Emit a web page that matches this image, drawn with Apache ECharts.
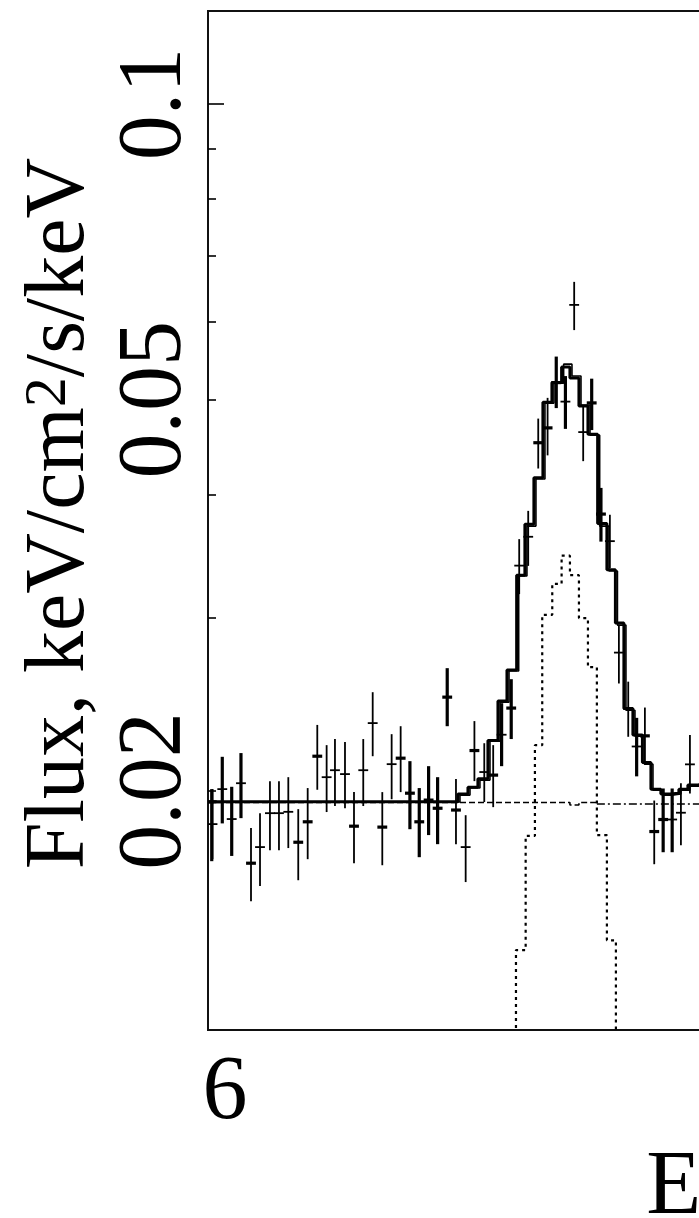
<!DOCTYPE html>
<html><head><meta charset="utf-8">
<script src="https://cdn.jsdelivr.net/npm/echarts@6/dist/echarts.min.js"></script>
<style>html,body{margin:0;padding:0;background:#fff;overflow:hidden}#main{width:699px;height:1218px}</style>
</head><body><div id="main"></div>
<script>
// ---------- data (energy keV, flux keV/cm^2/s/keV) ----------
const xTickValues = [6];
const xTickLabels = ['6'];
const yLabelValues = [0.02, 0.05, 0.1];
const yTickLabels = ['0.02', '0.05', '0.1'];
const yMinorTickValues = [0.02, 0.03, 0.04, 0.05, 0.06, 0.07, 0.08, 0.09];
const yMajorTickValues = [0.1];
const xAxisName = 'Energy, keV';
const xRange = [5.98, 7.538];
const yRange = [0.011428, 0.1243];
const binHalfWidth = 0.0058;

// [energy, flux, fluxLow, fluxHigh]
const pointsThick = [
  [5.9844, 0.01950, 0.01697, 0.02009], [6.2176, 0.01990, 0.01829, 0.02145],
  [6.2286, 0.01861, 0.01713, 0.02014], [6.2396, 0.01958, 0.01804, 0.02120],
  [6.2502, 0.01921, 0.01766, 0.02066], [6.2615, 0.02492, 0.02328, 0.02667],
  [6.3368, 0.02429, 0.02259, 0.02599], [6.3898, 0.05206, 0.04904, 0.05533],
  [6.4315, 0.04964, 0.04658, 0.05254], [6.4424, 0.03826, 0.03587, 0.04068],
  [6.5156, 0.01871, 0.01733, 0.02012]
];
const pointsThickBar = [
  [5.9968, 0.02009, 0.01854, 0.02167], [6.0079, 0.01873, 0.01718, 0.02020],
  [6.0188, 0.02037, 0.01877, 0.02186], [6.3255, 0.02282, 0.02120, 0.02457],
  [6.4006, 0.04979, 0.04671, 0.05286], [6.4844, 0.02220, 0.02070, 0.02374],
  [6.5262, 0.01871, 0.01733, 0.02012]
];
const pointsThickCap = [
  [6.0306, 0.01689, 0.01545, 0.01834], [6.0862, 0.01774, 0.01623, 0.01917],
  [6.0973, 0.01861, 0.01705, 0.02014], [6.1086, 0.02170, 0.02006, 0.02335],
  [6.1518, 0.01842, 0.01689, 0.01995], [6.1851, 0.01838, 0.01681, 0.01995],
  [6.2067, 0.02160, 0.01995, 0.02328], [6.2718, 0.01913, 0.01766, 0.02057],
  [6.2935, 0.02199, 0.02047, 0.02356], [6.3156, 0.02076, 0.01926, 0.02227],
  [6.3686, 0.04522, 0.04257, 0.04785], [6.3796, 0.04682, 0.04390, 0.05023],
  [6.4941, 0.02276, 0.02129, 0.02432], [6.5051, 0.01819, 0.01685, 0.01956]
];
const pointsThin = [
  [5.9853, 0.01851, 0.01705, 0.02009], [6.0412, 0.01754, 0.01601, 0.01899],
  [6.0529, 0.01899, 0.01741, 0.02047], [6.0635, 0.01899, 0.01741, 0.02047],
  [6.0745, 0.01905, 0.01750, 0.02066], [6.1196, 0.02066, 0.01904, 0.02227],
  [6.1294, 0.02100, 0.01931, 0.02259], [6.1412, 0.02081, 0.01921, 0.02243],
  [6.1627, 0.02100, 0.01931, 0.02259], [6.1738, 0.02345, 0.02170, 0.02521],
  [6.1961, 0.02130, 0.01962, 0.02285], [6.2832, 0.01754, 0.01616, 0.01890],
  [6.3051, 0.02091, 0.01949, 0.02237], [6.3462, 0.03391, 0.03172, 0.03608],
  [6.3568, 0.03628, 0.03389, 0.03855], [6.4109, 0.06245, 0.05887, 0.06591],
  [6.4215, 0.04636, 0.04331, 0.04927], [6.4529, 0.03591, 0.03371, 0.03820],
  [6.4635, 0.02766, 0.02573, 0.02951], [6.4745, 0.02423, 0.02271, 0.02584],
  [6.5365, 0.01901, 0.01762, 0.02037], [6.5471, 0.02129, 0.01988, 0.02280]
];

// model bins: edges (keV) and values
const modelAEdges = [5.98, 6.2741, 6.2859, 6.2976, 6.3094, 6.3212, 6.3318, 6.3432, 6.3529, 6.3635, 6.3741, 6.3847, 6.3961, 6.4059, 6.4165, 6.4271, 6.4385, 6.4494, 6.4594, 6.4694, 6.48, 6.4912, 6.5012, 6.5129, 6.5235, 6.5341, 6.5447, 6.5553, 6.5765];
const modelAValues = [0.01951, 0.01986, 0.02018, 0.02059, 0.02251, 0.02469, 0.02655, 0.03316, 0.03737, 0.04167, 0.04973, 0.05208, 0.05398, 0.05261, 0.04927, 0.04614, 0.03742, 0.03359, 0.02964, 0.02426, 0.02280, 0.02138, 0.02009, 0.01986, 0.01990, 0.02009, 0.02028, 0.02037];
const modelBEdges = [5.98, 6.2765, 6.2883, 6.3000, 6.3118, 6.3236, 6.3342, 6.3456, 6.3553, 6.3659, 6.3765, 6.3871, 6.3985, 6.4083, 6.4189, 6.4295, 6.4409, 6.4518, 6.4618, 6.4718, 6.4824, 6.4936, 6.5036, 6.5153, 6.5259, 6.5365, 6.5471, 6.5577, 6.5789];
const modelBValues = [0.01949, 0.01981, 0.02014, 0.02052, 0.02248, 0.02463, 0.02649, 0.03309, 0.03720, 0.04153, 0.04962, 0.05200, 0.05436, 0.05286, 0.04939, 0.04603, 0.03720, 0.03348, 0.02950, 0.02417, 0.02274, 0.02130, 0.02004, 0.01981, 0.01986, 0.02004, 0.02023, 0.02033];
const lineEdges = [6.3318, 6.3424, 6.3538, 6.3647, 6.3733, 6.3851, 6.3961, 6.4059, 6.4165, 6.4271, 6.4376, 6.4494, 6.46, 6.4694];
const lineValues = [0.005, 0.01378, 0.01801, 0.02227, 0.03022, 0.03249, 0.03471, 0.03316, 0.02999, 0.02673, 0.01804, 0.01410, 0.005];
const contAEdges = [5.98, 6.4059, 6.4165, 6.4376];
const contAValues = [0.01947, 0.01936, 0.01947];
const contBEdges = [6.4376, 6.5765];
const contBValues = [0.01940];

// ---------- chart ----------
const FONT = '"Liberation Serif", "Times New Roman", serif';
function stepData(edges, vals) {
  return edges.map((e, i) => [e, vals[Math.min(i, vals.length - 1)]]);
}
function errSeries(data, vw, hw) {
  return {
    type: 'custom', data: data, encode: { x: 0, y: [1, 2, 3] }, z: 5, clip: true,
    renderItem: function (params, api) {
      const e = api.value(0), v = api.value(1), lo = api.value(2), hi = api.value(3);
      const a = api.coord([e, lo]), b = api.coord([e, hi]);
      const l = api.coord([e - binHalfWidth, v]), r = api.coord([e + binHalfWidth, v]);
      return { type: 'group', children: [
        { type: 'line', shape: { x1: a[0], y1: a[1], x2: b[0], y2: b[1] }, style: { stroke: '#000', lineWidth: vw } },
        { type: 'line', shape: { x1: l[0], y1: l[1], x2: r[0], y2: r[1] }, style: { stroke: '#000', lineWidth: hw } }
      ]};
    }
  };
}
function stepSeries(edges, vals, width, type, z) {
  return { type: 'line', step: 'end', data: stepData(edges, vals), symbol: 'none', z: z, clip: true,
    lineStyle: { color: '#000', width: width, type: type }, silent: true, animation: false };
}
function yLabel(v) {
  for (let i = 0; i < yLabelValues.length; i++) {
    if (Math.abs(Math.log10(v) - Math.log10(yLabelValues[i])) < 1e-6) return yTickLabels[i];
  }
  return '';
}
function xLabel(v) {
  for (let i = 0; i < xTickValues.length; i++) {
    if (Math.abs(v - xTickValues[i]) < 1e-9) return xTickLabels[i];
  }
  return '';
}

const chart = echarts.init(document.getElementById('main'));
chart.setOption({
  backgroundColor: '#fff',
  animation: false,
  grid: { left: 208, top: 11, right: 699 - 1532, bottom: 188, outerBoundsMode: 'none', containLabel: false,
    show: true, borderColor: '#111', borderWidth: 2, backgroundColor: 'transparent' },
  xAxis: {
    type: 'value', min: xRange[0], max: xRange[1],
    axisLine: { show: false }, axisTick: { show: false }, splitLine: { show: false },
    axisLabel: { customValues: xTickValues, formatter: xLabel, fontFamily: FONT, fontSize: 90, color: '#000', margin: 19 },
    name: xAxisName, nameLocation: 'middle', nameGap: 109,
    nameTextStyle: { fontFamily: FONT, fontSize: 90, color: '#000' }
  },
  yAxis: [{
    type: 'log', logBase: 10, min: yRange[0], max: yRange[1], position: 'left',
    axisLine: { show: false }, splitLine: { show: false },
    axisTick: { show: true, inside: true, length: 8, customValues: yMinorTickValues, lineStyle: { color: '#000', width: 1.6 } },
    axisLabel: { customValues: yLabelValues, formatter: yLabel, rotate: 90, fontFamily: FONT, fontSize: 90, color: '#000', margin: 7 },
    name: 'Flux, keV/cm{sup|2}/s/keV', nameLocation: 'middle', nameGap: 95, nameRotate: 90,
    nameTextStyle: { fontFamily: FONT, fontSize: 84, color: '#000', padding: [0, 0, 0, 14],
      rich: { sup: { fontFamily: FONT, fontSize: 60, color: '#000', verticalAlign: 'top', padding: [0, 0, 12, 0] } } }
  }, {
    type: 'log', logBase: 10, min: yRange[0], max: yRange[1], position: 'left',
    axisLine: { show: false }, splitLine: { show: false }, axisLabel: { show: false },
    axisTick: { show: true, inside: true, length: 16, customValues: yMajorTickValues, lineStyle: { color: '#000', width: 1.6 } }
  }],
  series: [
    stepSeries(contAEdges, contAValues, 1.6, [6, 3], 1),
    stepSeries(contBEdges, contBValues, 1.6, [8, 3, 2, 3], 1),
    stepSeries(lineEdges, lineValues, 2.2, [3, 4], 1),
    stepSeries(modelBEdges, modelBValues, 1.6, 'solid', 2),
    stepSeries(modelAEdges, modelAValues, 3, 'solid', 3),
    errSeries(pointsThick, 3.2, 3.2),
    errSeries(pointsThickBar, 3.2, 1.8),
    errSeries(pointsThickCap, 1.8, 3.2),
    errSeries(pointsThin, 1.8, 1.8)
  ]
});
</script></body></html>
